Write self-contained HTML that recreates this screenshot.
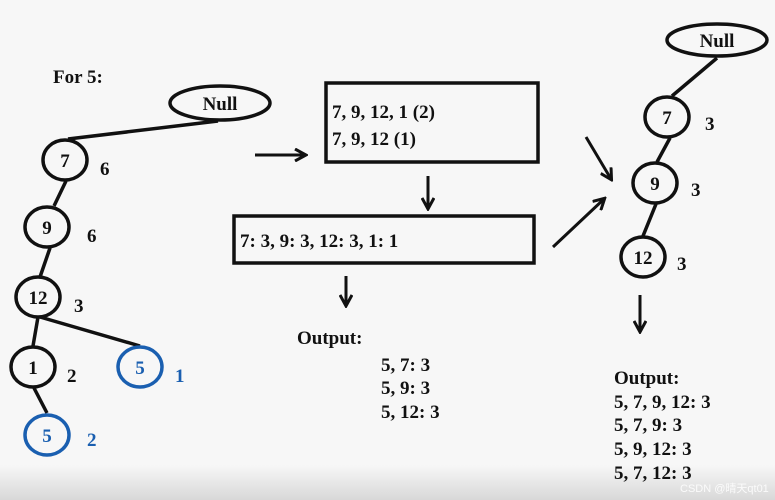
<!DOCTYPE html>
<html><head><meta charset="utf-8"><style>
html,body{margin:0;padding:0;background:#f7f7f7;}
svg{display:block;}
text{font-family:"Liberation Serif",serif;font-weight:bold;fill:#111;}
</style></head><body>
<svg width="775" height="500" viewBox="0 0 775 500" xmlns="http://www.w3.org/2000/svg">
<defs>
<linearGradient id="g" x1="0" y1="0" x2="0" y2="1"><stop offset="0" stop-color="#f7f7f7"/><stop offset="1" stop-color="#d8d8d8"/></linearGradient>
<marker id="a" markerWidth="14" markerHeight="14" refX="11" refY="7" orient="auto" markerUnits="userSpaceOnUse"><path d="M1,1 L12,7 L1,13" fill="none" stroke="#111" stroke-width="3"/></marker>
</defs>
<rect width="775" height="500" fill="#f7f7f7"/>
<rect y="465" width="775" height="35" fill="url(#g)"/>
<g stroke="#111" stroke-width="3.5" fill="none">
<ellipse cx="220" cy="103" rx="50" ry="17"/>
<line x1="218" y1="121" x2="68" y2="139"/>
<ellipse cx="65" cy="160" rx="22" ry="20"/>
<line x1="66" y1="181" x2="54" y2="206"/>
<ellipse cx="47" cy="227" rx="22" ry="20"/>
<line x1="50" y1="248" x2="40" y2="277"/>
<ellipse cx="38" cy="297" rx="22" ry="20"/>
<line x1="38" y1="317" x2="33" y2="346"/>
<line x1="40" y1="317" x2="140" y2="346"/>
<ellipse cx="33" cy="367" rx="22" ry="20"/>
<line x1="34" y1="388" x2="47" y2="413"/>
<rect x="326" y="83" width="212" height="79"/>
<rect x="234" y="216" width="300" height="47"/>
<ellipse cx="717" cy="40" rx="50" ry="16"/>
<line x1="717" y1="58" x2="672" y2="96"/>
<ellipse cx="667" cy="117" rx="22" ry="20"/>
<line x1="670" y1="138" x2="657" y2="162"/>
<ellipse cx="655" cy="183" rx="22" ry="20"/>
<line x1="656" y1="204" x2="643" y2="236"/>
<ellipse cx="643" cy="257" rx="22" ry="20"/>
</g>
<g stroke="#1a5fb0" stroke-width="3.5" fill="none">
<ellipse cx="140" cy="367" rx="22" ry="20"/>
<ellipse cx="47" cy="435" rx="22" ry="20"/>
</g>
<g stroke="#111" stroke-width="3" fill="none" marker-end="url(#a)">
<line x1="255" y1="155" x2="305" y2="155"/>
<line x1="428" y1="176" x2="428" y2="208"/>
<line x1="346" y1="276" x2="346" y2="305"/>
<line x1="586" y1="137" x2="611" y2="179"/>
<line x1="553" y1="247" x2="604" y2="199"/>
<line x1="640" y1="295" x2="640" y2="331"/>
</g>
<g font-size="19">
<text x="53" y="83">For 5:</text>
<text x="220" y="110" text-anchor="middle">Null</text>
<text x="65" y="167" text-anchor="middle">7</text>
<text x="100" y="175">6</text>
<text x="47" y="234" text-anchor="middle">9</text>
<text x="87" y="242">6</text>
<text x="38" y="304" text-anchor="middle">12</text>
<text x="74" y="312">3</text>
<text x="33" y="374" text-anchor="middle">1</text>
<text x="67" y="382">2</text>
<text x="140" y="374" text-anchor="middle" style="fill:#1a5fb0">5</text>
<text x="175" y="382" style="fill:#1a5fb0">1</text>
<text x="47" y="442" text-anchor="middle" style="fill:#1a5fb0">5</text>
<text x="87" y="446" style="fill:#1a5fb0">2</text>
<text x="332" y="118">7, 9, 12, 1 (2)</text>
<text x="332" y="145">7, 9, 12 (1)</text>
<text x="240" y="247">7: 3, 9: 3, 12: 3, 1: 1</text>
<text x="297" y="344">Output:</text>
<text x="381" y="371">5, 7: 3</text>
<text x="381" y="394">5, 9: 3</text>
<text x="381" y="418">5, 12: 3</text>
<text x="717" y="47" text-anchor="middle">Null</text>
<text x="667" y="124" text-anchor="middle">7</text>
<text x="705" y="130">3</text>
<text x="655" y="190" text-anchor="middle">9</text>
<text x="691" y="196">3</text>
<text x="643" y="264" text-anchor="middle">12</text>
<text x="677" y="270">3</text>
<text x="614" y="384">Output:</text>
<text x="614" y="408">5, 7, 9, 12: 3</text>
<text x="614" y="431">5, 7, 9: 3</text>
<text x="614" y="455">5, 9, 12: 3</text>
<text x="614" y="479">5, 7, 12: 3</text>
</g>
<text x="680" y="492" font-size="11" style="font-family:'Liberation Sans','Noto Sans CJK SC',sans-serif;font-weight:normal;fill:#fff;opacity:.85">CSDN @晴天qt01</text>
</svg>
</body></html>
